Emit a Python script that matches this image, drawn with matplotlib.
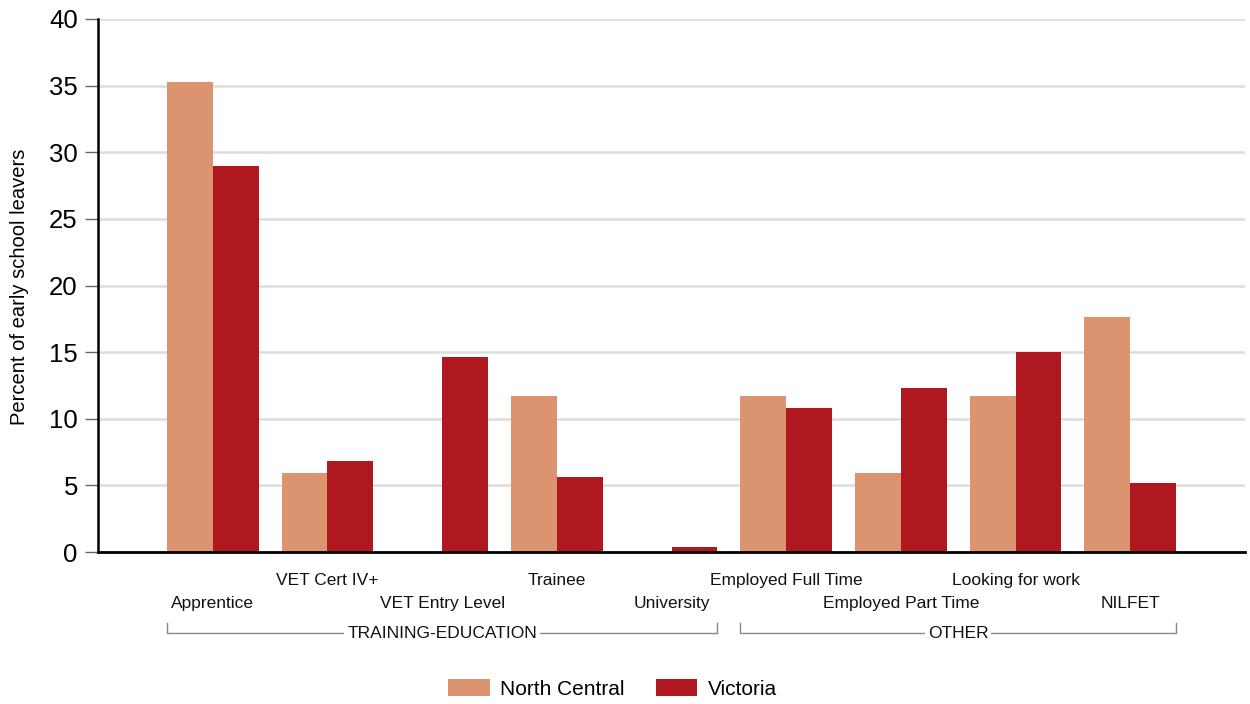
import matplotlib
matplotlib.use("Agg")
import matplotlib.pyplot as plt
import numpy as np
from matplotlib.transforms import blended_transform_factory

plt.rcParams['font.family'] = ['Liberation Sans', 'DejaVu Sans']

categories = ["Apprentice", "VET Cert IV+", "VET Entry Level", "Trainee", "University",
              "Employed Full Time", "Employed Part Time", "Looking for work", "NILFET"]
north_central = [35.3, 5.9, 0.0, 11.7, 0.0, 11.7, 5.9, 11.7, 17.6]
victoria = [29.0, 6.8, 14.6, 5.6, 0.4, 10.8, 12.3, 15.0, 5.2]
groups = [("TRAINING-EDUCATION", 0, 4), ("OTHER", 5, 8)]
series_names = ["North Central", "Victoria"]
y_ticks = [0, 5, 10, 15, 20, 25, 30, 35, 40]

c_nc = "#DB9370"
c_vic = "#B0181F"

fig = plt.figure(figsize=(12.5, 7.04), dpi=100)
ax = fig.add_axes([98/1250, 1-552/704, (1245-98)/1250, (552-19)/704])

x = np.arange(len(categories))
w = 0.4
b1 = ax.bar(x - w/2, north_central, w, color=c_nc, label=series_names[0], zorder=3)
b2 = ax.bar(x + w/2, victoria, w, color=c_vic, label=series_names[1], zorder=3)

ax.set_xlim(-1, 9)
ax.set_ylim(0, 40)
ax.set_yticks(y_ticks)
ax.set_yticklabels([str(t) for t in y_ticks], fontsize=18.5)
ax.tick_params(axis='y', length=9.5, width=1.0, color='#666666', pad=5)
ax.set_xticks([])
ax.grid(axis='y', color='#DDDDDD', linewidth=1.8, zorder=0)
for s in ['top', 'right']:
    ax.spines[s].set_visible(False)
ax.spines['left'].set_linewidth(1.8)
ax.spines['left'].set_zorder(4)
ax.spines['bottom'].set_linewidth(2.0)
ax.spines['bottom'].set_zorder(4)

trans = blended_transform_factory(ax.transData, fig.transFigure)
y_up = 1 - 585/704
y_low = 1 - 608/704
for i, c in enumerate(categories):
    yy = y_up if i % 2 == 1 else y_low
    ax.text(i, yy, c, transform=trans, ha='center', va='baseline', fontsize=12.5, color='#111111')

y_br = 1 - 633/704
y_br_top = 1 - 623/704
for name, i0, i1 in groups:
    xl, xr = i0 - w, i1 + w
    ax.plot([xl, xl, xr, xr], [y_br_top, y_br, y_br, y_br_top], transform=trans,
            color='#888888', linewidth=1.0, clip_on=False)
    ax.text((xl + xr) / 2, y_br, name, transform=trans, ha='center', va='center',
            fontsize=12.5, color='#111111',
            bbox=dict(facecolor='white', edgecolor='none', pad=2))

fig.text(20/1250, 1-286.5/704, "Percent of early school leavers", rotation=90,
         ha='center', va='center', fontsize=14.5)

fig.legend(handles=[b1, b2], labels=series_names, loc='center',
           bbox_to_anchor=(612.5/1250, 1-689/704), ncol=2, frameon=False,
           fontsize=15, handlelength=2.0, handleheight=0.85, handletextpad=0.5,
           columnspacing=1.5)

fig.savefig("out.png", dpi=100)
